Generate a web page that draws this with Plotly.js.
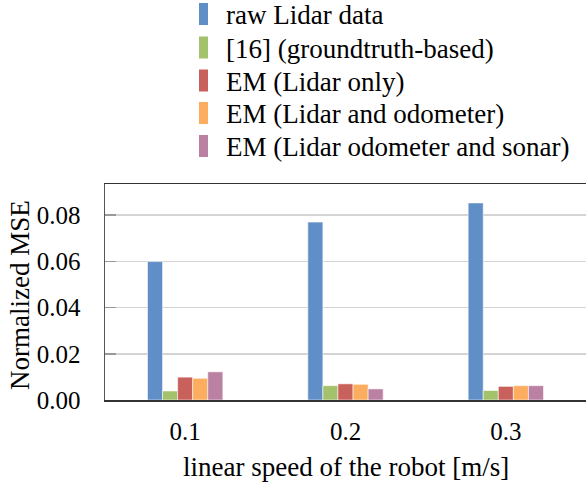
<!DOCTYPE html>
<html>
<head>
<meta charset="utf-8">
<script src="https://cdn.plot.ly/plotly-3.0.1.min.js"></script>
<style>html,body{margin:0;padding:0;background:#fff;}#chart{width:586px;height:485px;}</style>
</head>
<body>
<div id="chart"></div>
<script>
const categories = ["0.1", "0.2", "0.3"];
const seriesNames = ["raw Lidar data", "[16] (groundtruth-based)", "EM (Lidar only)", "EM (Lidar and odometer)", "EM (Lidar odometer and sonar)"];
const rawLidar = [0.0599, 0.0770, 0.0853];
const groundtruth16 = [0.0039, 0.0062, 0.0041];
const emLidar = [0.0099, 0.0070, 0.0059];
const emLidarOdo = [0.0094, 0.0068, 0.0062];
const emLidarOdoSonar = [0.0122, 0.0048, 0.0062];
const seriesValues = [rawLidar, groundtruth16, emLidar, emLidarOdo, emLidarOdoSonar];
const yTickVals = [0, 0.02, 0.04, 0.06, 0.08];
const yTickText = ["0.00", "0.02", "0.04", "0.06", "0.08"];
const colors = ["#5f8fc6", "#a4c16b", "#c8605b", "#fcad5f", "#bb81a3"];

const fam = "Liberation Serif";
const L = 105, R = 0, T = 184, B = 85, W = 586, H = 485;
const pw = W - L - R, ph = H - T - B;
const px2x = px => (px - L) / pw;
const py2y = py => (H - B - py) / ph;
const yRange = [0, 0.0935];

const traces = seriesNames.map((n, i) => ({
  type: "bar",
  name: n,
  x: categories,
  y: seriesValues[i],
  marker: {color: colors[i], line: {color: "rgba(255,255,255,0.55)", width: 1}},
  showlegend: false,
  hoverinfo: "x+y+name"
}));

const rowY = [14, 47.5, 80.5, 113, 146];
const shapes = [];
const annotations = [];
seriesNames.forEach((n, i) => {
  shapes.push({type: "rect", xref: "paper", yref: "paper",
    x0: px2x(199), x1: px2x(208), y0: py2y(rowY[i] + 11), y1: py2y(rowY[i] - 11),
    fillcolor: colors[i], line: {width: 0}});
  annotations.push({xref: "paper", yref: "paper", x: px2x(224), y: py2y(rowY[i] + 1),
    xanchor: "left", yanchor: "middle", text: n, showarrow: false,
    font: {family: fam, size: 27, color: "#000"}});
});
annotations.push({xref: "paper", yref: "paper", x: px2x(20), y: py2y(295),
  xanchor: "center", yanchor: "middle", textangle: -90, text: "Normalized MSE", showarrow: false,
  font: {family: fam, size: 27, color: "#000"}});
annotations.push({xref: "paper", yref: "paper", x: px2x(346), y: py2y(467),
  xanchor: "center", yanchor: "middle", text: "linear speed of the robot [m/s]", showarrow: false,
  font: {family: fam, size: 27, color: "#000"}});

const layout = {
  width: W, height: H,
  margin: {l: L, r: R, t: T, b: B, pad: 0},
  paper_bgcolor: "#fff", plot_bgcolor: "#fff",
  barmode: "group", bargap: 0.53, bargroupgap: 0,
  showlegend: false,
  font: {family: fam, color: "#000"},
  xaxis: {type: "category", range: [-0.5, 2.5], showline: true, linecolor: "#333", linewidth: 1.5,
    mirror: true, ticks: "", showgrid: false, zeroline: false,
    tickfont: {family: fam, size: 25, color: "#000"}, ticklabelstandoff: 8, fixedrange: true},
  yaxis: {range: yRange, tickvals: yTickVals, ticktext: yTickText,
    showline: true, linecolor: "#555", linewidth: 1.5, mirror: false,
    ticks: "inside", ticklen: 11, tickcolor: "#999", tickwidth: 1.5,
    showgrid: true, gridcolor: "#d4d4d4", gridwidth: 1.5, zeroline: false,
    tickfont: {family: fam, size: 25, color: "#000"}, ticklabelstandoff: 18, fixedrange: true},
  yaxis2: {range: yRange, tickvals: yTickVals, overlaying: "y", anchor: "x", side: "right",
    showline: false, showticklabels: false, showgrid: false, zeroline: false,
    ticks: "inside", ticklen: 11, tickcolor: "#999", tickwidth: 1.5, fixedrange: true},
  shapes: shapes,
  annotations: annotations
};

Plotly.newPlot("chart", traces, layout, {displayModeBar: false, staticPlot: true});
</script>
</body>
</html>
